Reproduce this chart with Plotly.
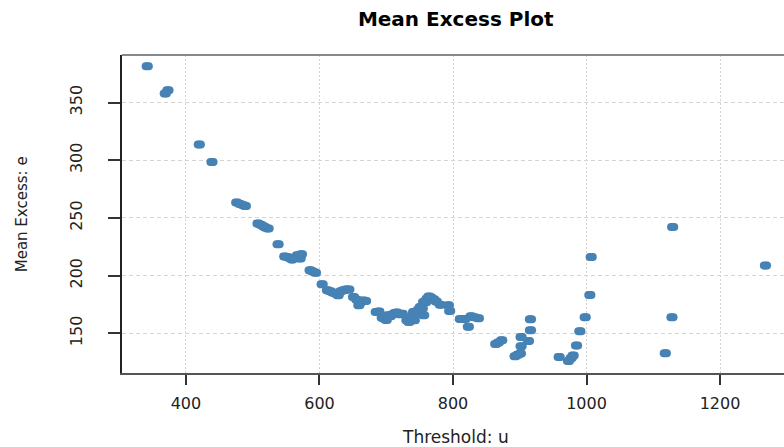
import plotly.graph_objects as go

# ---- data ----
threshold = [342, 369, 373, 420, 439, 476, 481, 486, 489, 508, 512, 516, 519, 523,
             538, 548, 552, 556, 559, 563, 567, 569, 571, 573, 586, 590, 594, 604,
             612, 616, 620, 624, 628, 632, 636, 640, 644, 651, 656, 659, 662, 666,
             669, 685, 689, 694, 697, 700, 703, 706, 710, 713, 716, 720, 724, 731,
             734, 737, 741, 742, 744, 748, 751, 754, 756, 756, 759, 761, 764, 767,
             771, 775, 781, 793, 795, 811, 818, 823, 827, 832, 838, 864, 868, 873,
             893, 897, 901, 902, 902, 913, 916, 916, 959, 973, 977, 980, 985, 990,
             998, 1005, 1007, 1118, 1128, 1129, 1268]
mean_excess = [381.5, 357.8, 360.7, 313.6, 298.5, 263.3, 262.1, 261.0, 260.4, 245.1,
               244.0, 242.8, 241.7, 240.8, 227.2, 216.5, 216.2, 215.0, 214.0, 215.5,
               217.7, 216.5, 214.8, 218.5, 204.7, 203.5, 202.4, 192.5, 187.3, 186.5,
               185.3, 184.4, 183.0, 186.5, 187.3, 188.0, 187.9, 181.5, 179.0, 174.3,
               177.2, 178.5, 178.1, 168.5, 168.8, 163.5, 162.8, 161.5, 165.7, 164.8,
               166.5, 167.7, 168.0, 166.6, 167.0, 161.3, 159.9, 164.2, 168.5, 161.3,
               167.2, 170.5, 172.9, 171.5, 177.2, 165.7, 177.0, 180.0, 182.0, 181.0,
               179.5, 177.5, 174.7, 174.3, 169.4, 162.5, 162.5, 155.6, 164.8, 164.0,
               163.0, 140.8, 142.0, 144.0, 130.2, 131.5, 132.5, 138.8, 146.9, 143.4,
               152.7, 162.1, 129.5, 126.1, 128.5, 130.8, 139.4, 151.8, 164.0, 183.3,
               216.2, 132.8, 164.0, 242.2, 208.8]

x_ticks = [400, 600, 800, 1000, 1200]
y_ticks = [150, 200, 250, 300, 350]

title_text = "Mean Excess Plot"
x_title = "Threshold: u"
y_title = "Mean Excess: e"

# ---- layout geometry ----
W, H = 784, 447
ml, mr, mt, mb = 121.5, 0, 55, 74
plot_w = W - ml - mr
plot_h = H - mt - mb
x_range = [304.2, 1295.8]
y_range = [115.6, 391.2]

color = "#4682B4"
font_family = "DejaVu Sans, Liberation Sans, Arial"

# markers drawn as horizontal "stadium" shapes via overlaid x axes shifted by pixels
offsets_px = [-1.6, 0.0, 1.6]
units_per_px = (x_range[1] - x_range[0]) / plot_w

fig = go.Figure()
extra_axes = {}
for i, off in enumerate(offsets_px):
    axname = "x" if off == 0 else f"x{i+2}"
    fig.add_trace(go.Scatter(
        x=threshold, y=mean_excess, mode="markers", xaxis=axname, yaxis="y",
        marker=dict(color=color, size=8, line=dict(width=0)),
        showlegend=False, hoverinfo="x+y"))
    if off != 0:
        d = off * units_per_px
        extra_axes[f"xaxis{i+2}"] = dict(
            overlaying="x", range=[x_range[0] - d, x_range[1] - d],
            visible=False, showgrid=False, zeroline=False)

fig.update_layout(
    width=W, height=H, autosize=False,
    margin=dict(l=ml, r=mr, t=mt, b=mb, pad=0),
    paper_bgcolor="white", plot_bgcolor="white",
    font=dict(family=font_family, color="#222222", size=16),
    xaxis=dict(range=x_range, tickvals=x_ticks, ticks="outside", ticklen=10,
               tickwidth=1.5, tickcolor="#333333",
               showline=True, linecolor="#555555", linewidth=2,
               showgrid=True, gridcolor="#D3D3D3", gridwidth=1, griddash="2px,2px",
               zeroline=False, tickfont=dict(size=16, color="#222222"),
               ticklabelstandoff=5),
    yaxis=dict(range=y_range, tickvals=y_ticks, ticks="outside", ticklen=12,
               tickwidth=1.5, tickcolor="#333333", tickangle=-90,
               showline=True, linecolor="#222222", linewidth=2,
               showgrid=True, gridcolor="#D3D3D3", gridwidth=1, griddash="4px,3px",
               zeroline=False, tickfont=dict(size=16, color="#222222"),
               ticklabelstandoff=20),
    title=dict(text=f"<b>{title_text}</b>", x=(455.5 - ml) / plot_w, xref="paper",
               xanchor="center", y=1 - 19 / H, yref="container", yanchor="middle",
               font=dict(size=20, color="#000000", family=font_family)),
    showlegend=False,
    **extra_axes,
)

# top frame line
fig.add_shape(type="line", xref="paper", yref="paper", x0=0, x1=1, y0=1, y1=1,
              line=dict(color="#888888", width=2))

# axis titles as annotations
fig.add_annotation(text=x_title, xref="paper", yref="paper",
                   x=(455 - ml) / plot_w, y=-(437 - (mt + plot_h)) / plot_h,
                   xanchor="center", yanchor="middle", showarrow=False,
                   font=dict(size=17, color="#222222", family=font_family))
fig.add_annotation(text=y_title, xref="paper", yref="paper",
                   x=(21.7 - ml) / plot_w, y=0.5, textangle=-90,
                   xanchor="center", yanchor="middle", showarrow=False,
                   font=dict(size=15, color="#222222", family=font_family))

fig.write_html("out.html")
